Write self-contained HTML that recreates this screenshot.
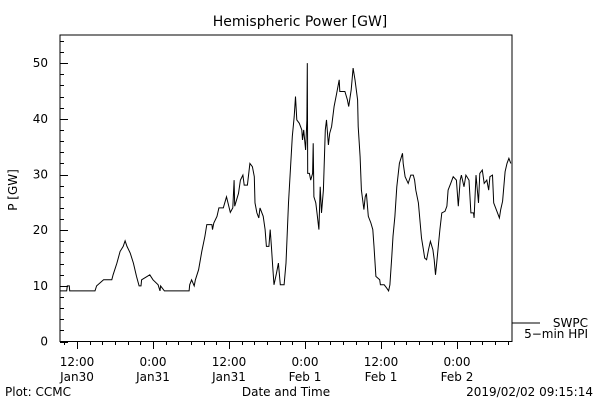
<!DOCTYPE html>
<html><head><meta charset="utf-8"><style>
body{margin:0;background:#fff}
svg text{font-family:"DejaVu Sans","Liberation Sans",sans-serif;fill:#000}
</style></head><body>
<svg width="600" height="400" viewBox="0 0 600 400">
<text x="300" y="26" text-anchor="middle" font-size="14">Hemispheric Power [GW]</text>
<text transform="translate(17,190) rotate(-90)" text-anchor="middle" font-size="12">P [GW]</text>
<rect x="60" y="35" width="452" height="306.5" fill="none" stroke="#000" stroke-width="1"/>
<g id="axes"></g>
<path id="series" fill="none" stroke="#000" stroke-width="1"/>
<line x1="512" y1="323" x2="540" y2="323" stroke="#000"/>
<text x="588" y="327" text-anchor="end" font-size="12">SWPC</text>
<text x="588" y="338" text-anchor="end" font-size="12">5−min HPI</text>
<text x="5" y="396" font-size="12">Plot: CCMC</text>
<text x="286" y="396" text-anchor="middle" font-size="12">Date and Time</text>
<text x="593" y="396" text-anchor="end" font-size="12">2019/02/02 09:15:14</text>
</svg>
<script>
// hours since 2019-01-30 00:00
const hours=[9.32,10.37,10.47,10.79,10.85,14.84,15.1,16.2,17.5,17.7,18.3,18.8,19.3,19.6,19.9,20.4,20.9,21.4,21.8,22.1,22.2,23.5,24.0,24.8,25.1,25.2,25.8,29.7,29.8,30.1,30.5,30.7,31.2,31.7,32.2,32.5,33.3,33.4,33.6,34.1,34.4,35.1,35.6,36.2,36.6,36.8,36.9,37.5,37.8,38.2,38.4,38.9,39.3,39.7,40.0,40.1,40.4,40.7,
40.9,41.4,41.7,41.9,42.3,42.5,42.7,42.9,43.1,43.5,43.8,44.1,44.7,45.0,45.4,45.6,46.0,46.3,46.5,46.7,47.1,47.5,47.6,47.8,48.1,48.3,48.37,48.42,48.7,48.9,49.2,49.3,49.4,49.7,49.9,50.2,50.4,50.6,50.9,51.2,51.4,51.7,51.9,52.2,52.6,53.0,53.4,53.5,54.3,54.7,54.9,55.3,55.6,55.9,56.3,56.4,56.7,56.9,57.3,57.5,57.7,58.0,58.4,58.7,58.9,59.2,59.8,59.9,60.5,60.9,61.2,61.4,61.7,61.9,62.2,62.5,62.9,63.4,63.5,63.8,64.3,64.7,65.1,65.3,65.5,65.9,66.4,66.7,66.9,67.2,67.5,67.8,68.2,68.4,68.6,68.8,69.1,69.3,69.6,70.1,70.4,70.6,71.0,71.4,71.9,72.2,72.5,72.7,73.1,73.4,73.9,74.2,74.6,74.7,75.0,75.4,75.6,76.0,76.3,76.7,77.0,77.2,77.6,77.8,78.3,78.7,78.9,79.2,79.6,79.9,80.2,80.5];
const power=[9.1,9.1,10,10,9.1,9.1,10,11.1,11.1,12,14.1,16.2,17.1,18.1,17.1,15.9,14.1,11.7,10,10,11.1,12,11.1,10.2,9.1,10,9.1,9.1,10.2,11.1,10,11.1,12.9,16.2,18.9,21,21,20.1,21.3,22.5,24,24,26,23.2,24,29,24.3,26.6,29,29.9,28.1,28.1,32,31.4,29.6,24.9,23.1,22.2,
24,22.5,20.1,17.1,17.1,20.1,17.1,13.5,10.2,12.3,14.1,10.2,10.2,14.1,24.9,29,36.8,40.4,44,39.8,39.2,38,36.2,38,34.4,39.8,50,30.2,30.2,29,30.2,35.6,26,24.9,23.1,20.1,27.8,23.1,27.2,38,39.8,35.3,37.4,38.6,42.2,44.6,47,44.9,44.9,43.4,42.2,45.2,49.1,47,43.4,38.6,33.2,27.2,23.7,26,26.6,22.5,21.3,20.1,17.1,11.7,11.1,10.2,10.2,9.6,9.1,10.2,15.3,18.9,22.5,27.8,32,33.8,32,29.6,28.4,29.9,29.9,29,27.2,24.9,18.6,16.5,15,14.7,16.5,18,16.5,14.7,12,14.1,17.7,20.1,23.1,23.4,24.3,27.2,28.4,29.6,29,24.3,29,29.9,27.8,29.9,29,23.1,23.1,22.2,29.9,24.9,30.2,30.8,28.4,29,27.2,29.6,29.9,24.9,23.4,22.2,23.7,25.2,30.5,32,32.9,32];
const yTicks=[0,10,20,30,40,50];
const xTickHours=[12,24,36,48,60,72];
const xTickTimes=["12:00","0:00","12:00","0:00","12:00","0:00"];
const xTickDays=["Jan30","Jan31","Jan31","Feb 1","Feb 1","Feb 2"];

const X=h=>1+h*76/12;
const Y=v=>341.6-v*5.57;
const NS="http://www.w3.org/2000/svg";
const ax=document.getElementById('axes');
function ln(x1,y1,x2,y2,name){const l=document.createElementNS(NS,'line');l.setAttribute('x1',x1);l.setAttribute('y1',y1);l.setAttribute('x2',x2);l.setAttribute('y2',y2);l.setAttribute('stroke','#000');


ax.appendChild(l);}
function tx(x,y,s,anchor,name){const t=document.createElementNS(NS,'text');t.setAttribute('x',x);t.setAttribute('y',y);t.setAttribute('font-size','12');t.setAttribute('text-anchor',anchor);t.textContent=s;


ax.appendChild(t);}
for(let v=0;v<=54;v+=2){const y=Math.round(Y(v))+0.5;const major=v%10===0;ln(60,y,major?68:64,y,major?'y-major-tick':'y-minor-tick');}
yTicks.forEach(v=>tx(48,Y(v)+4,String(v),'end','y-tick-label'));
for(let h=10;h<=80;h+=2){const x=Math.round(X(h))+0.5;const major=h%12===0;ln(x,341.5,x,major?349:345,major?'x-major-tick':'x-minor-tick');}
xTickHours.forEach((h,i)=>{tx(X(h),366,xTickTimes[i],'middle','x-tick-time');tx(X(h),381,xTickDays[i],'middle','x-tick-day');});
let d='';hours.forEach((h,i)=>{d+=(i?'L':'M')+X(h).toFixed(1)+' '+Y(power[i]).toFixed(1);});
document.getElementById('series').setAttribute('d',d);
</script>
</body></html>
